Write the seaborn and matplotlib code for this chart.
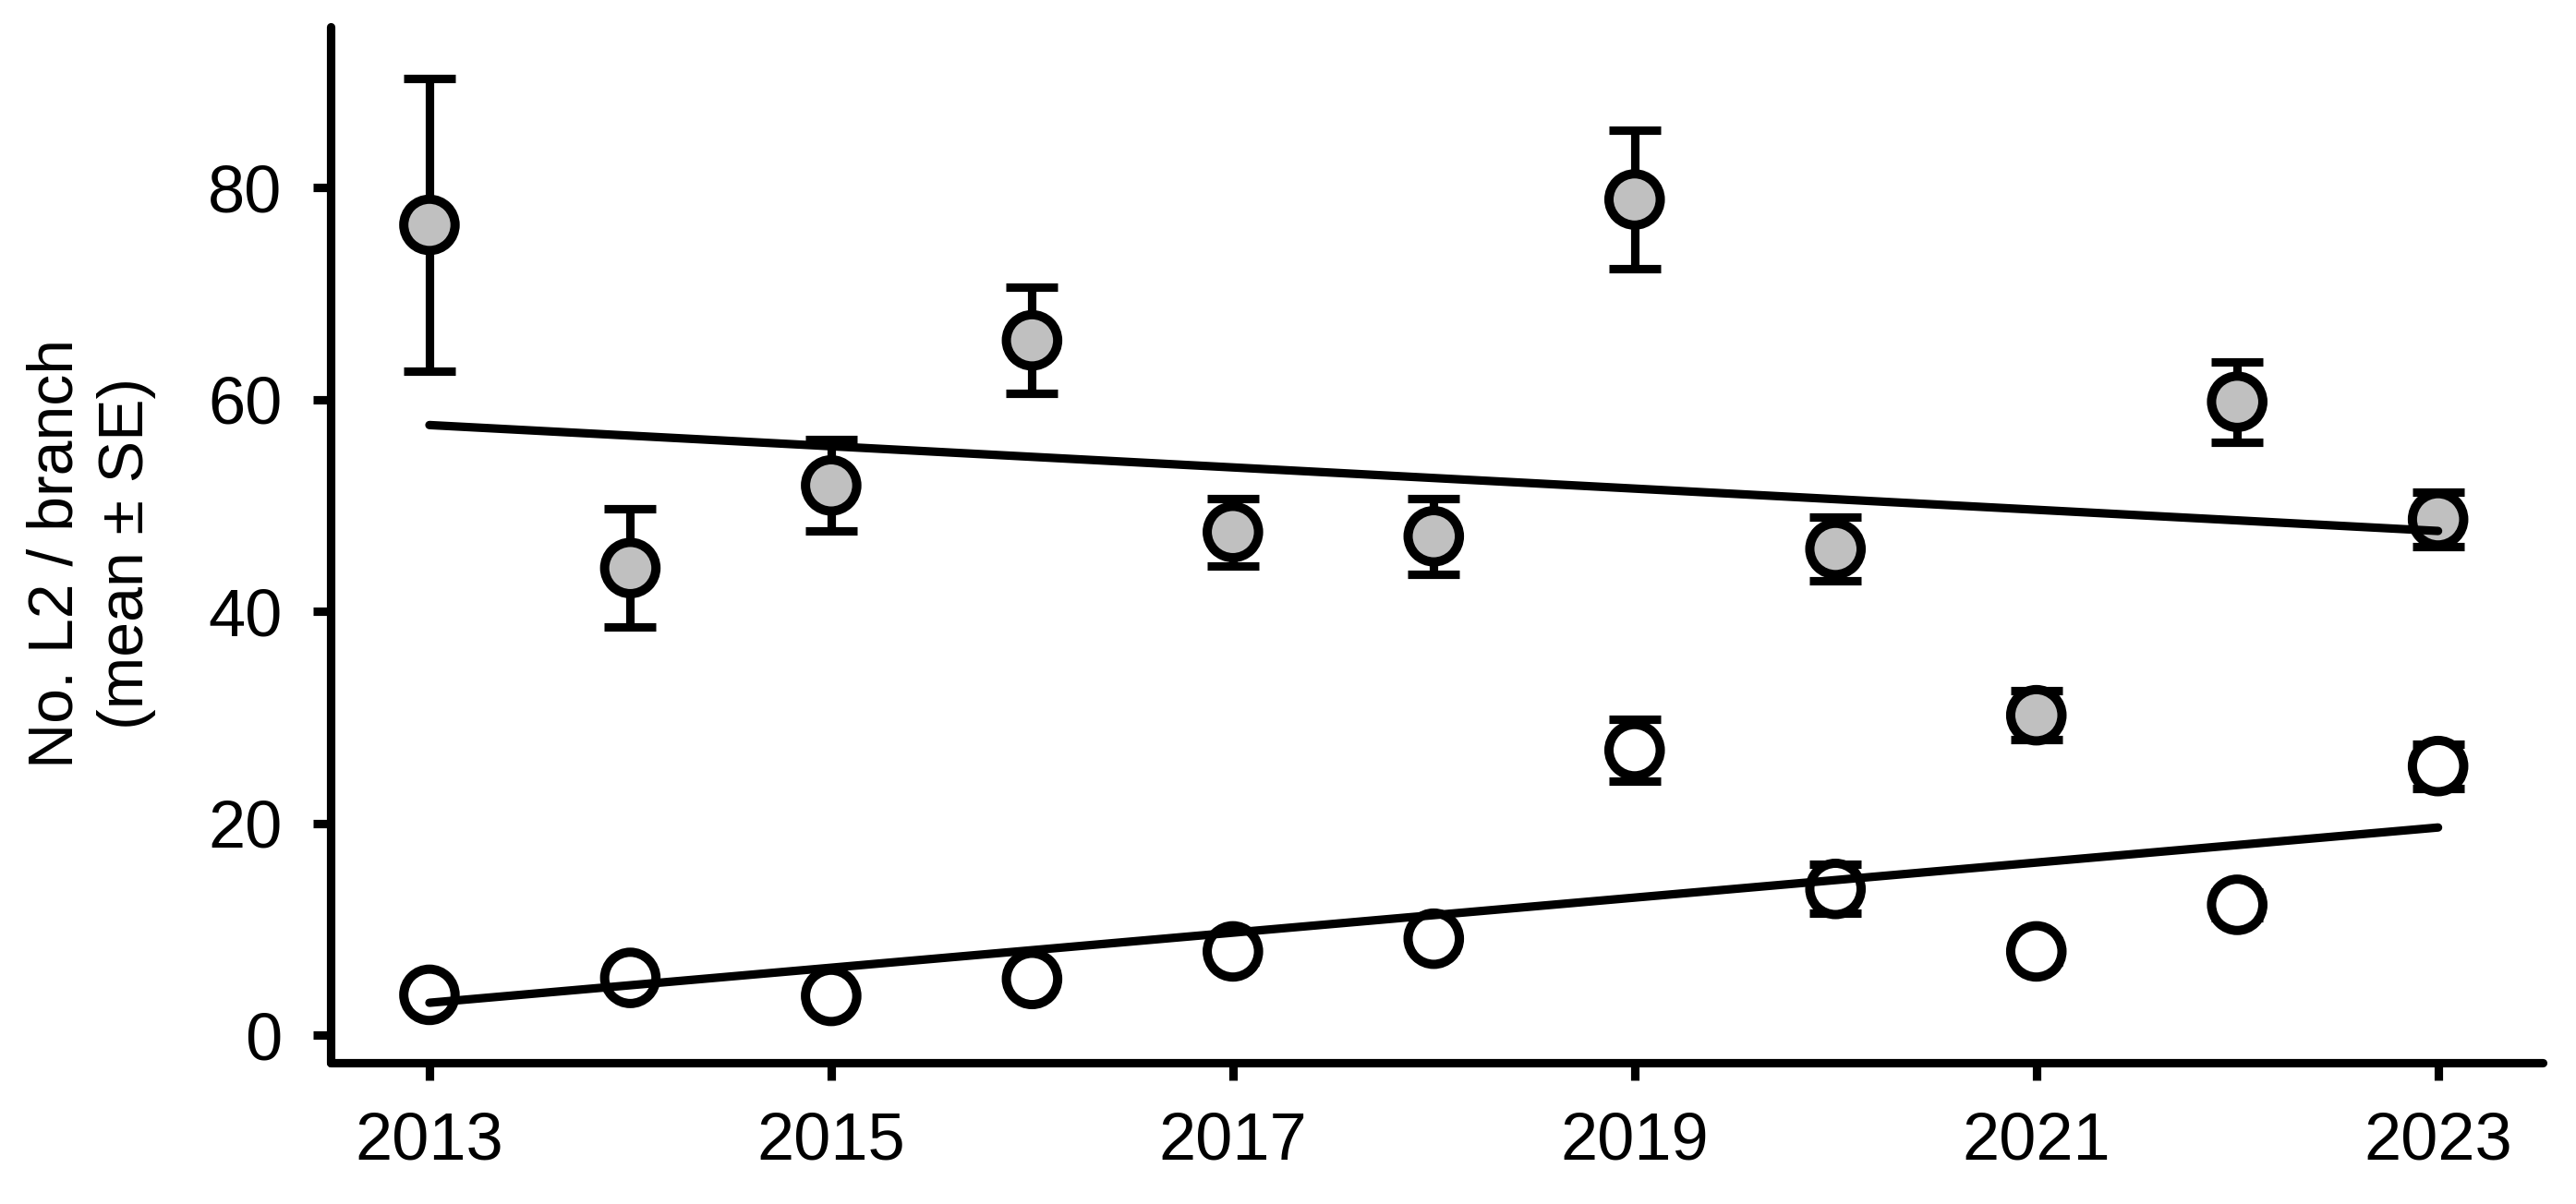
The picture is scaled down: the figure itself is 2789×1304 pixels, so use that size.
import matplotlib
matplotlib.use("Agg")
import matplotlib.pyplot as plt
import pandas as pd
import seaborn as sns

years = [2013, 2014, 2015, 2016, 2017, 2018, 2019, 2020, 2021, 2022, 2023]

# filled (grey) series: mean and SE
grey_mean = [76.5, 44.1, 51.9, 65.6, 47.5, 47.1, 78.9, 45.9, 30.2, 59.8, 48.7]
grey_se = [13.8, 5.6, 4.3, 5.0, 3.2, 3.6, 6.5, 3.0, 2.3, 3.8, 2.6]

# open (white) series: mean and SE
open_mean = [3.8, 5.4, 3.7, 5.3, 7.9, 9.1, 26.9, 13.8, 7.9, 12.3, 25.4]
open_se = [0.8, 0.9, 0.7, 0.9, 1.0, 1.1, 2.9, 2.3, 1.0, 1.2, 2.1]

# fitted trend lines (end points)
trend_years = [2013, 2023]
grey_trend = [57.6, 47.6]
open_trend = [3.05, 19.6]

x_ticks = [2013, 2015, 2017, 2019, 2021, 2023]
y_ticks = [0, 20, 40, 60, 80]
y_label = "No. L2 / branch\n(mean \u00b1 SE)"

sns.set_theme(style="ticks")
plt.rcParams["font.family"] = ["Liberation Sans", "DejaVu Sans"]
plt.rcParams.update(
    {
        "text.color": "black",
        "axes.labelcolor": "black",
        "axes.edgecolor": "black",
        "xtick.color": "black",
        "ytick.color": "black",
    }
)

LW = 3.3
fig = plt.figure(figsize=(13.945, 6.52), dpi=200)
ax = fig.add_axes([0.1285, 0.1177, 0.8585, 0.860])

points = pd.DataFrame(
    {
        "year": years * 2,
        "mean": grey_mean + open_mean,
        "se": grey_se + open_se,
        "group": ["grey"] * len(years) + ["open"] * len(years),
    }
)
trends = pd.DataFrame(
    {
        "year": trend_years * 2,
        "value": grey_trend + open_trend,
        "group": ["grey"] * 2 + ["open"] * 2,
    }
)

# error bars sit behind the markers
for group, sub in points.groupby("group"):
    eb = ax.errorbar(
        sub["year"], sub["mean"], yerr=sub["se"], fmt="none", ecolor="black",
        elinewidth=LW, capsize=10, capthick=LW, zorder=2,
    )
    for cap in eb[1]:
        cap.set_solid_capstyle("round")

n_before = len(ax.collections)
sns.scatterplot(
    data=points, x="year", y="mean", hue="group",
    palette={"grey": "#c0c0c0", "open": "white"},
    s=400, edgecolor="black", linewidth=3.6, legend=False, ax=ax,
)
for coll in ax.collections[n_before:]:
    coll.set_zorder(3)

n_lines = len(ax.lines)
sns.lineplot(
    data=trends, x="year", y="value", units="group", estimator=None,
    color="black", linewidth=LW, legend=False, ax=ax,
)
for line in ax.lines[n_lines:]:
    line.set_zorder(4)
    line.set_solid_capstyle("round")

ax.set_xlim(2012.51, 2023.52)
ax.set_ylim(-2.57, 95.2)
ax.set_xticks(x_ticks)
ax.set_xticklabels([str(t) for t in x_ticks])
ax.set_yticks(y_ticks)
ax.set_xlabel("")
ax.set_ylabel(y_label, fontsize=24.5, linespacing=1.25)
ax.yaxis.set_label_coords(-0.079, 0.491)

ax.tick_params(axis="both", labelsize=26, length=7, width=LW, pad=12, color="black")
for side in ["top", "right"]:
    ax.spines[side].set_visible(False)
for side in ["left", "bottom"]:
    ax.spines[side].set_linewidth(LW)
    ax.spines[side].set_color("black")
    ax.spines[side].set_capstyle("round")

fig.savefig("out.png", dpi=200, facecolor="white")
